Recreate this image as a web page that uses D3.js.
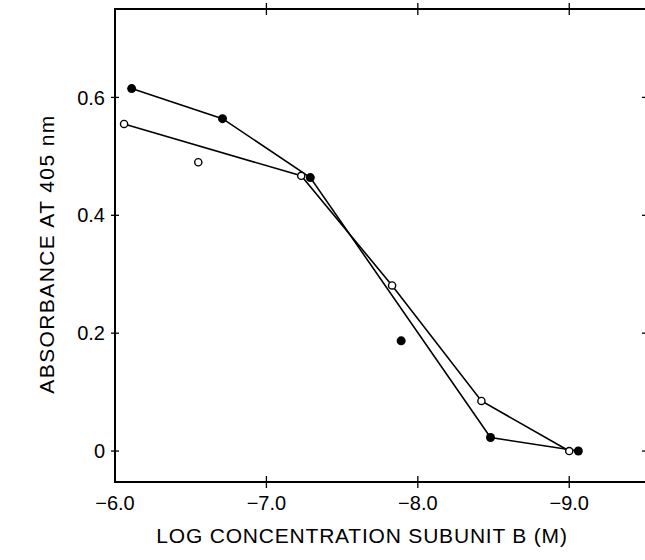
<!DOCTYPE html>
<html lang="en">
<head>
  <meta charset="UTF-8">
  <title>Absorbance vs log concentration</title>
  <script src="https://d3js.org/d3.v7.min.js"></script>
  <style>
    body { margin: 0; background: #fff; }
    text { font-family: "Liberation Sans", Arial, sans-serif; fill: #000; }
  </style>
</head>
<body>

<div id="chart"></div>

<script>
  // Data (log M, absorbance)
  const filledX = [-6.11, -6.71, -7.29, -7.89, -8.48, -9.06];
  const filledY = [0.615, 0.564, 0.464, 0.187, 0.023, 0.0];
  const openX = [-6.06, -6.55, -7.23, -7.83, -8.42, -9.0];
  const openY = [0.555, 0.49, 0.467, 0.281, 0.085, 0.0];
  // which points the drawn lines pass through (the outliers are left off)
  const filledLine = [0, 1, 2, 4, 5];
  const openLine = [0, 2, 3, 4, 5];

  const xTicks = [-6, -7, -8, -9];
  const xTickLabels = ["\u22126.0", "\u22127.0", "\u22128.0", "\u22129.0"];
  const yTicks = [0, 0.2, 0.4, 0.6];
  const yTickLabels = ["0", "0.2", "0.4", "0.6"];

  const width = 645, height = 560;
  const plotL = 115, plotR = 651, plotT = 9, plotB = 482;

  const x = d3.scaleLinear().domain([-6, -9.54]).range([plotL, plotR]);
  const y = d3.scaleLinear().domain([-0.0525, 0.75]).range([plotB, plotT]);

  const svg = d3.select("#chart")
    .append("svg")
    .attr("width", width)
    .attr("height", height);

  // frame
  svg.append("rect")
    .attr("x", plotL)
    .attr("y", plotT)
    .attr("width", plotR - plotL)
    .attr("height", plotB - plotT)
    .attr("fill", "none")
    .attr("stroke", "#000")
    .attr("stroke-width", 2);

  // ticks that cross the frame lines
  const tickG = svg.append("g").attr("stroke", "#000").attr("stroke-width", 1.3);
  xTicks.slice(1).forEach(v => {
    tickG.append("line").attr("x1", x(v)).attr("x2", x(v)).attr("y1", plotB - 6).attr("y2", plotB + 6);
    tickG.append("line").attr("x1", x(v)).attr("x2", x(v)).attr("y1", plotT - 6).attr("y2", plotT + 6);
  });
  yTicks.forEach(v => {
    tickG.append("line").attr("x1", plotL - 4).attr("x2", plotL + 4).attr("y1", y(v)).attr("y2", y(v));
    tickG.append("line").attr("x1", plotR - 9).attr("x2", plotR).attr("y1", y(v)).attr("y2", y(v));
  });

  // tick labels
  svg.selectAll(".xlab")
    .data(xTicks)
    .enter()
    .append("text")
    .attr("class", "xlab")
    .attr("x", d => x(d))
    .attr("y", plotB + 28)
    .attr("text-anchor", "middle")
    .style("font-size", "20px")
    .text((d, i) => xTickLabels[i]);

  svg.selectAll(".ylab")
    .data(yTicks)
    .enter()
    .append("text")
    .attr("class", "ylab")
    .attr("x", plotL - 10)
    .attr("y", d => y(d))
    .attr("dy", "0.36em")
    .attr("text-anchor", "end")
    .style("font-size", "20px")
    .text((d, i) => yTickLabels[i]);

  // axis titles
  svg.append("text")
    .attr("x", 362)
    .attr("y", 543)
    .attr("text-anchor", "middle")
    .style("font-size", "21px")
    .style("letter-spacing", "0.8px")
    .text("LOG CONCENTRATION SUBUNIT B (M)");

  svg.append("text")
    .attr("transform", "translate(54, 254) rotate(-90)")
    .attr("text-anchor", "middle")
    .style("font-size", "21px")
    .style("letter-spacing", "1.4px")
    .text("ABSORBANCE AT 405 nm");

  // lines
  const line = d3.line().x(d => x(d[0])).y(d => y(d[1]));

  svg.append("path")
    .datum(filledLine.map(i => [filledX[i], filledY[i]]))
    .attr("d", line)
    .attr("fill", "none")
    .attr("stroke", "#000")
    .attr("stroke-width", 1.6);

  svg.append("path")
    .datum(openLine.map(i => [openX[i], openY[i]]))
    .attr("d", line)
    .attr("fill", "none")
    .attr("stroke", "#000")
    .attr("stroke-width", 1.6);

  // markers
  svg.selectAll(".open")
    .data(openX)
    .enter()
    .append("circle")
    .attr("class", "open")
    .attr("cx", d => x(d))
    .attr("cy", (d, i) => y(openY[i]))
    .attr("r", 3.6)
    .attr("fill", "#fff")
    .attr("stroke", "#000")
    .attr("stroke-width", 1.4);

  svg.selectAll(".filled")
    .data(filledX)
    .enter()
    .append("circle")
    .attr("class", "filled")
    .attr("cx", d => x(d))
    .attr("cy", (d, i) => y(filledY[i]))
    .attr("r", 4.5)
    .attr("fill", "#000");
</script>

</body>
</html>
